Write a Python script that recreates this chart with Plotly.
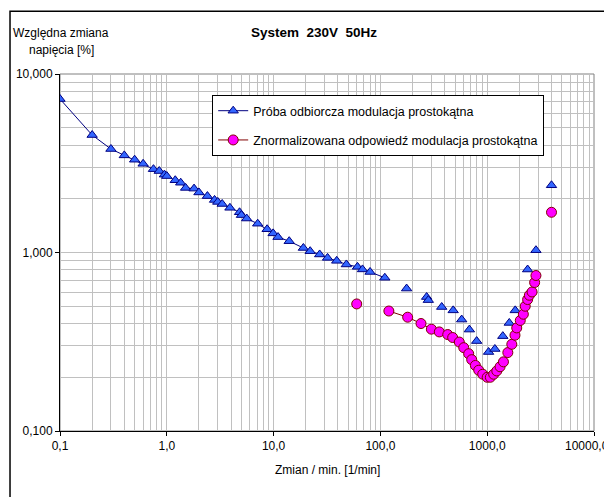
import plotly.graph_objects as go

# ---- data ----
blue_line_x = [0.1, 0.2, 0.3, 0.4, 0.5, 0.6, 0.75, 0.85, 0.95, 1.0, 1.2, 1.35, 1.5, 1.8,
               2.0, 2.4, 2.8, 3.0, 3.3, 3.9, 4.8, 5.0, 5.6, 7.1, 8.7, 9.9, 11, 14, 19,
               22, 27, 32, 39, 48, 61, 68, 80, 110]
blue_line_y = [7.24, 4.55, 3.80, 3.50, 3.31, 3.14, 2.93, 2.86, 2.73, 2.68, 2.54, 2.46, 2.30,
               2.28, 2.17, 2.07, 1.97, 1.92, 1.87, 1.78, 1.68, 1.62, 1.55, 1.45, 1.35, 1.28,
               1.22, 1.157, 1.06, 1.017, 0.975, 0.933, 0.898, 0.857, 0.831, 0.804, 0.778, 0.722]

blue_pts_x = [176, 271, 281, 375, 480, 577, 681, 797, 1030, 1180, 1400, 1610, 1830, 2390, 2860, 4000]
blue_pts_y = [0.628, 0.563, 0.541, 0.495, 0.474, 0.421, 0.370, 0.319, 0.277, 0.288, 0.340,
              0.403, 0.474, 0.803, 1.03, 2.38]

pink_line_x = [120, 180, 240, 300, 356, 427, 475, 548, 603, 671, 716, 775, 833, 908, 1000,
               1070, 1150, 1230, 1320, 1420, 1560, 1700, 1820, 1890, 2040, 2180, 2270, 2390,
               2480, 2630, 2780, 2860]
pink_line_y = [0.470, 0.434, 0.400, 0.372, 0.359, 0.347, 0.334, 0.315, 0.293, 0.271, 0.251,
               0.233, 0.219, 0.208, 0.200, 0.200, 0.208, 0.217, 0.229, 0.244, 0.275, 0.306,
               0.344, 0.378, 0.416, 0.451, 0.500, 0.545, 0.576, 0.601, 0.679, 0.743]

pink_pts_x = [60, 4000]
pink_pts_y = [0.515, 1.68]

x_tickvals = [0.1, 1, 10, 100, 1000, 10000]
x_ticktext = ["0,1", "1,0", "10,0", "100,0", "1000,0", ""]
x_last_label = "10000,0"   # drawn as an annotation so it stays inside the page
y_tickvals = [0.1, 1, 10]
y_ticktext = ["0,100", "1,000", "10,000"]

name_blue = "Próba odbiorcza modulacja prostokątna"
name_pink = "Znormalizowana odpowiedź modulacja prostokątna"
title_text = "System  230V  50Hz"
y_title_1 = "Względna zmiana"
y_title_2 = "napięcia [%]"
x_title = "Zmian / min. [1/min]"

FONT = "Liberation Sans, Arial, sans-serif"
BLUE_FILL, BLUE_EDGE = "#3366FF", "#000080"
PINK_FILL, PINK_EDGE = "#FF00FF", "#800000"
GRID = "#C0C0C0"

x_minor = [d * m for d in [0.1, 1, 10, 100, 1000] for m in range(2, 10)]
y_minor = [d * m for d in [0.1, 1] for m in range(2, 10)]

fig = go.Figure()
fig.add_trace(go.Scatter(
    x=blue_line_x, y=blue_line_y, mode="lines+markers", name=name_blue,
    legendgroup="a",
    line=dict(color=BLUE_EDGE, width=1),
    marker=dict(symbol="triangle-up", size=9, color=BLUE_FILL,
                line=dict(color=BLUE_EDGE, width=1))))
fig.add_trace(go.Scatter(
    x=blue_pts_x, y=blue_pts_y, mode="markers", showlegend=False, legendgroup="a",
    marker=dict(symbol="triangle-up", size=9, color=BLUE_FILL,
                line=dict(color=BLUE_EDGE, width=1))))
fig.add_trace(go.Scatter(
    x=pink_line_x, y=pink_line_y, mode="lines+markers", name=name_pink,
    legendgroup="b",
    line=dict(color=PINK_EDGE, width=1),
    marker=dict(symbol="circle", size=10, color=PINK_FILL,
                line=dict(color=PINK_EDGE, width=1))))
fig.add_trace(go.Scatter(
    x=pink_pts_x, y=pink_pts_y, mode="markers", showlegend=False, legendgroup="b",
    marker=dict(symbol="circle", size=10, color=PINK_FILL,
                line=dict(color=PINK_EDGE, width=1))))

fig.update_xaxes(
    type="log", range=[-1, 4], tickmode="array", tickvals=x_tickvals, ticktext=x_ticktext,
    showgrid=True, gridcolor=GRID, gridwidth=1, zeroline=False, automargin=False,
    showline=True, linecolor="black", linewidth=1,
    ticks="outside", ticklen=4, tickcolor="black",
    tickfont=dict(family=FONT, size=12, color="black"),
    minor=dict(tickmode="array", tickvals=x_minor, showgrid=True, gridcolor=GRID, ticks=""),
)
fig.update_yaxes(
    type="log", range=[-1, 1], tickmode="array", tickvals=y_tickvals, ticktext=y_ticktext,
    showgrid=True, gridcolor=GRID, gridwidth=1, zeroline=False, automargin=False,
    showline=True, linecolor="black", linewidth=1,
    ticks="outside", ticklen=4, tickcolor="black",
    tickfont=dict(family=FONT, size=12, color="black"),
    minor=dict(tickmode="array", tickvals=y_minor, showgrid=True, gridcolor=GRID, ticks=""),
)

# page body has an 8px margin: figure is sized/margined so the plot area lands at
# x 60..594, y 74..431 in the 612x497 window
fig.update_layout(
    width=604, height=489,
    margin=dict(l=52, r=18, t=66, b=66),
    paper_bgcolor="white", plot_bgcolor="white",
    font=dict(family=FONT, size=12, color="black"),
    showlegend=True,
    legend=dict(x=0.285, y=0.941, xanchor="left", yanchor="top",
                bgcolor="white", bordercolor="black", borderwidth=1,
                font=dict(family=FONT, size=12.5, color="black"),
                traceorder="grouped", tracegroupgap=10),
    shapes=[
        dict(type="rect", xref="paper", yref="paper", x0=0, y0=0, x1=1, y1=1,
             line=dict(color="#808080", width=1), layer="below"),
        dict(type="rect", xref="paper", yref="paper", x0=-0.0936, y0=-0.3, x1=1.2, y1=1.176,
             line=dict(color="black", width=1.5)),
    ],
    annotations=[
        dict(text="<b>" + title_text + "</b>", xref="paper", yref="paper",
             x=0.476, y=1.115, xanchor="center", yanchor="middle", showarrow=False,
             font=dict(family=FONT, size=13.5, color="black")),
        dict(text=y_title_1, xref="paper", yref="paper", x=0.0028, y=1.115,
             xanchor="center", yanchor="middle", showarrow=False,
             font=dict(family=FONT, size=12, color="black")),
        dict(text=y_title_2, xref="paper", yref="paper", x=0.0037, y=1.067,
             xanchor="center", yanchor="middle", showarrow=False,
             font=dict(family=FONT, size=12, color="black")),
        dict(text=x_title, xref="paper", yref="paper", x=0.5, y=-0.109,
             xanchor="center", yanchor="middle", showarrow=False,
             font=dict(family=FONT, size=12, color="black")),
        dict(text=x_last_label, xref="paper", yref="paper", x=1.0318, y=-0.042,
             xanchor="right", yanchor="middle", showarrow=False,
             font=dict(family=FONT, size=12, color="black")),
    ],
)

fig.write_html("out.html")
